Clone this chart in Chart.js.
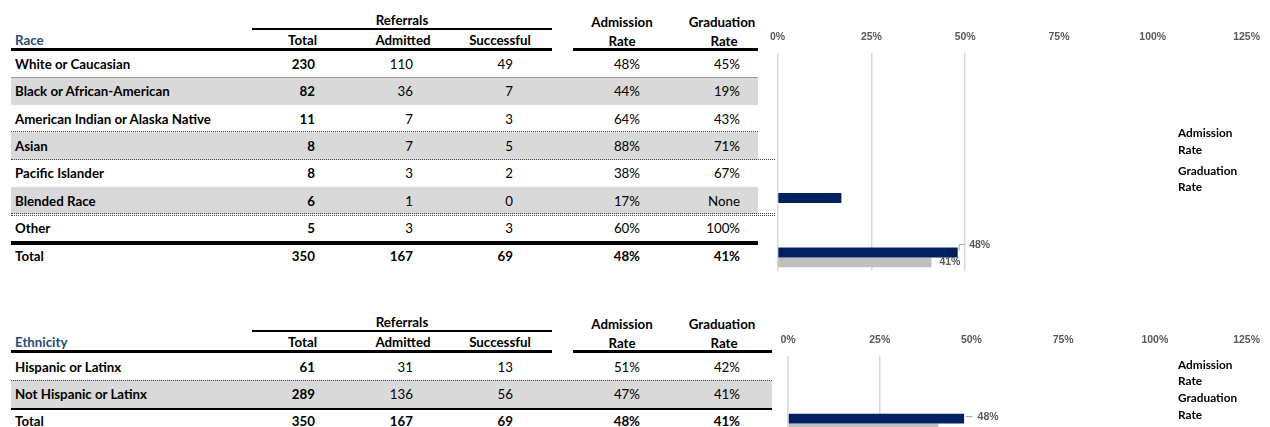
<!DOCTYPE html>
<html>
<head>
<meta charset="utf-8">
<script src="https://cdn.jsdelivr.net/npm/chart.js@4.4.1/dist/chart.umd.min.js"></script>
<style>
html,body{margin:0;padding:0;width:1270px;height:427px;overflow:hidden;background:#fff;}
#root{position:relative;width:1270px;height:427px;font-family:Lato,"Liberation Sans",sans-serif;}
.t{position:absolute;white-space:nowrap;font-size:13.3px;line-height:16px;height:16px;color:#000;}
.b{font-weight:bold;}
.ln{position:absolute;}
.cv{position:absolute;}
.lg{position:absolute;white-space:nowrap;font-size:11.8px;line-height:14px;font-weight:bold;color:#000;font-family:Lato,"Liberation Sans",sans-serif;}
</style>
</head>
<body>
<div id="root"></div>
<script>
// ---------------- DATA ----------------
const raceCategories = ['White or Caucasian','Black or African-American','American Indian or Alaska Native','Asian','Pacific Islander','Blended Race','Other','Total'];
const raceTotal = [230, 82, 11, 8, 8, 6, 5, 350];
const raceAdmitted = [110, 36, 7, 7, 3, 1, 3, 167];
const raceSuccessful = [49, 7, 3, 5, 2, 0, 3, 69];
const raceAdmissionRate = ['48%','44%','64%','88%','38%','17%','60%','48%'];
const raceGraduationRate = ['45%','19%','43%','71%','67%','None','100%','41%'];
// bars visible in the race chart
const raceBarAdmission = [null, null, null, null, null, 0.17, null, 0.48];
const raceBarGraduation = [null, null, null, null, null, null, null, 0.41];

const ethCategories = ['Hispanic or Latinx','Not Hispanic or Latinx','Total'];
const ethTotal = [61, 289, 350];
const ethAdmitted = [31, 136, 167];
const ethSuccessful = [13, 56, 69];
const ethAdmissionRate = ['51%','47%','48%'];
const ethGraduationRate = ['42%','41%','41%'];
const ethBarAdmission = [null, null, 0.48];
const ethBarGraduation = [null, null, 0.41];

const seriesNames = ['Admission Rate','Graduation Rate'];
const tickLabels = ['0%','25%','50%','75%','100%','125%'];
const barLabels = ['48%','41%'];

// ---------------- HELPERS ----------------
const root = document.getElementById('root');
function txt(s, x, cy, align, bold, color){
  const d = document.createElement('div');
  d.className = 't' + (bold ? ' b' : '');
  d.textContent = s;
  d.style.top = (cy - 8) + 'px';
  if (align === 'left'){ d.style.left = x + 'px'; }
  else if (align === 'right'){ d.style.left = (x - 300) + 'px'; d.style.width = '300px'; d.style.textAlign = 'right'; }
  else { d.style.left = (x - 150) + 'px'; d.style.width = '300px'; d.style.textAlign = 'center'; }
  if (color) d.style.color = color;
  root.appendChild(d);
}
function rect(x1, y1, x2, y2, color){
  const d = document.createElement('div');
  d.className = 'ln';
  d.style.left = x1 + 'px'; d.style.top = y1 + 'px';
  d.style.width = (x2 - x1) + 'px'; d.style.height = (y2 - y1) + 'px';
  d.style.background = color;
  root.appendChild(d);
}
function dotted(x1, x2, y, color){
  const d = document.createElement('div');
  d.className = 'ln';
  d.style.left = x1 + 'px'; d.style.top = y + 'px';
  d.style.width = (x2 - x1) + 'px'; d.style.height = '0px';
  d.style.borderTop = '1px dotted ' + (color || '#444');
  root.appendChild(d);
}

const COL = {label: 15, total: 315, admitted: 413, successful: 513, adm: 640, grad: 740};
const HEADBLUE = '#1F4E79';

function header(y0, title, rightEnd){
  txt('Referrals', 402, y0 + 20, 'center', true);
  rect(252, y0 + 28, 552, y0 + 30, '#000');
  txt(title, COL.label, y0 + 40, 'left', true, HEADBLUE);
  txt('Total', 317, y0 + 40, 'right', true);
  txt('Admitted', 403, y0 + 40, 'center', true);
  txt('Successful', 500, y0 + 40, 'center', true);
  txt('Admission', 622, y0 + 22, 'center', true);
  txt('Rate', 622, y0 + 41, 'center', true);
  txt('Graduation', 722, y0 + 22, 'center', true);
  txt('Rate', 724, y0 + 41, 'center', true);
  rect(11, y0 + 48, 552, y0 + 51, '#000');
  rect(573, y0 + 48, rightEnd, y0 + 51, '#000');
}
function rows(top, h, cats, tot, adm, suc, ar, gr){
  cats.forEach((c, i) => {
    const cy = top + h * (i + 0.5);
    const last = i === cats.length - 1;
    txt(c, COL.label, cy, 'left', true);
    txt(String(tot[i]), COL.total, cy, 'right', true);
    txt(String(adm[i]), COL.admitted, cy, 'right', last);
    txt(String(suc[i]), COL.successful, cy, 'right', last);
    txt(ar[i], COL.adm, cy, 'right', last);
    txt(gr[i], COL.grad, cy, 'right', last);
  });
}

// ---------------- RACE TABLE ----------------
const H1 = 27.4, T1 = 50;
[1, 3, 5].forEach(i => rect(11, T1 + H1 * i, 758, T1 + H1 * (i + 1), '#D9D9D9'));
header(0, 'Race', 758);
rect(11, 77, 758, 78, '#9A9A9A');
dotted(11, 758, 131);
dotted(11, 775, 159);
dotted(11, 775, 213);
dotted(11, 775, 215);
rect(11, 241, 758, 245, '#000');
rows(T1, H1, raceCategories, raceTotal, raceAdmitted, raceSuccessful, raceAdmissionRate, raceGraduationRate);

// ---------------- ETHNICITY TABLE ----------------
const H2 = 27.3, T2 = 353;
rect(11, T2 + H2, 772, T2 + H2 * 2, '#D9D9D9');
header(302, 'Ethnicity', 772);
dotted(11, 772, 380);
rect(11, 408, 772, 410, '#000');
rows(T2, H2, ethCategories, ethTotal, ethAdmitted, ethSuccessful, ethAdmissionRate, ethGraduationRate);

// ---------------- LEGENDS ----------------
function legend(x, ys){
  const parts = [];
  seriesNames.forEach(n => { const w = n.split(' '); parts.push(w[0]); parts.push(w[1]); });
  parts.forEach((p, i) => {
    const d = document.createElement('div');
    d.className = 'lg';
    d.textContent = p;
    d.style.left = x + 'px';
    d.style.top = (ys[i] - 7) + 'px';
    root.appendChild(d);
  });
}

// ---------------- CHARTS ----------------
const CFONT = '"Liberation Sans", Arial, sans-serif';
const labelPlugin = {
  id: 'totalLabels',
  afterDatasetsDraw(chart, args, opts){
    const ctx = chart.ctx;
    const last = chart.data.labels.length - 1;
    const b0 = chart.getDatasetMeta(0).data[last];
    const b1 = chart.getDatasetMeta(1).data[last];
    ctx.save();
    ctx.font = 'bold 10.5px ' + CFONT;
    ctx.fillStyle = '#595959';
    ctx.textBaseline = 'middle';
    ctx.textAlign = 'left';
    ctx.strokeStyle = '#A6A6A6';
    ctx.lineWidth = 1;
    ctx.beginPath();
    const lx = b0.x + 1.5;
    ctx.moveTo(lx, b0.y - 2);
    ctx.lineTo(lx, b0.y + opts.dy);
    ctx.lineTo(lx + opts.lead, b0.y + opts.dy);
    ctx.stroke();
    ctx.fillText(barLabels[0], lx + opts.lead + 5, b0.y + opts.dy + 0.5);
    ctx.fillText(barLabels[1], b1.x + opts.gx, b1.y + opts.gy);
    ctx.restore();
  }
};

function makeChart(left, top, w, h, cats, adm, grad, pad, gridMax, opts){
  const wrap = document.createElement('div');
  wrap.className = 'cv';
  wrap.style.left = left + 'px'; wrap.style.top = top + 'px';
  wrap.style.width = w + 'px'; wrap.style.height = h + 'px';
  const cv = document.createElement('canvas');
  cv.width = w; cv.height = h;
  cv.style.width = w + 'px'; cv.style.height = h + 'px';
  wrap.appendChild(cv);
  root.appendChild(wrap);
  return new Chart(cv.getContext('2d'), {
    type: 'bar',
    data: {
      labels: cats,
      datasets: [
        {label: seriesNames[0], data: adm, backgroundColor: '#002060', categoryPercentage: 0.72, barPercentage: 1},
        {label: seriesNames[1], data: grad, backgroundColor: '#BFBFBF', categoryPercentage: 0.72, barPercentage: 1}
      ]
    },
    options: {
      indexAxis: 'y',
      responsive: false,
      animation: false,
      events: [],
      layout: {padding: pad},
      plugins: {legend: {display: false}, tooltip: {enabled: false}, totalLabels: opts},
      scales: {
        x: {
          position: 'top', min: 0, max: 1.25,
          ticks: {stepSize: 0.25, callback: (v, i) => tickLabels[i], color: '#595959', padding: 10,
                  font: {family: CFONT, size: 10.5, weight: 'bold'}, maxRotation: 0, autoSkip: false},
          grid: {drawTicks: false, lineWidth: 1.5,
                 color: c => (c.tick && c.tick.value <= gridMax + 1e-9) ? '#D9D9D9' : 'rgba(0,0,0,0)'},
          border: {display: false},
          afterFit(s){ s.height = 33; }
        },
        y: {display: false}
      }
    },
    plugins: [labelPlugin]
  });
}

makeChart(760, 20, 510, 260, raceCategories, raceBarAdmission, raceBarGraduation,
  {left: 12, right: 22, top: 0, bottom: 9}, 0.5, {dy: -8, lead: 5, gx: 8, gy: 0});
makeChart(760, 300, 510, 140, ethCategories, ethBarAdmission, ethBarGraduation,
  {left: 28, right: 18, top: 23, bottom: 3}, 0.25, {dy: -2, lead: 7, gx: 10, gy: 4});

legend(1178, [133, 150, 171, 187]);
legend(1178, [365, 381, 398, 415]);
</script>
</body>
</html>
